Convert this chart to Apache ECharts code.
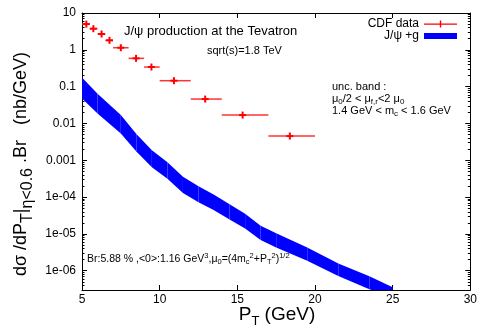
<!DOCTYPE html>
<html>
<head>
<meta charset="utf-8">
<script src="https://cdn.jsdelivr.net/npm/echarts@6/dist/echarts.min.js"></script>
<style>
  html, body { margin: 0; padding: 0; background: #fff; }
  #chart { width: 480px; height: 330px; }
</style>
</head>
<body>
<div id="chart"></div>
<script>
// CDF data points: centre, bin edges, value
const cdfPt = [5.28, 5.73, 6.26, 6.77, 7.5, 8.48, 9.47, 10.92, 12.93, 15.34, 18.38];
const cdfLo = [5.0, 5.5, 6.0, 6.5, 7.0, 8.0, 9.0, 10.0, 12.0, 14.0, 17.0];
const cdfHi = [5.5, 6.0, 6.5, 7.0, 8.0, 9.0, 10.0, 12.0, 14.0, 17.0, 20.0];
const cdfVal = [5.0, 3.75, 2.69, 1.81, 1.14, 0.587, 0.341, 0.145, 0.046, 0.0169, 0.00455];

// J/psi + g uncertainty band
const bandPt = [5, 6, 7.5, 8.5, 9.5, 10.5, 11.5, 12.5, 13.5, 14.5, 15.5, 16.5, 17.5, 19.5, 21.5, 23.5, 25];
const bandUpper = [0.178, 0.0646, 0.0170, 0.00519, 0.00188, 8.8e-4, 3.55e-4, 1.97e-4, 1.15e-4, 6.4e-5, 3.55e-5, 1.66e-5, 1.04e-5, 4.3e-6, 1.58e-6, 7.1e-7, 3.55e-7];
const bandLower = [0.0479, 0.0186, 0.00537, 0.00172, 6.5e-4, 3.13e-4, 1.29e-4, 7.3e-5, 4.4e-5, 2.48e-5, 1.41e-5, 6.8e-6, 4.3e-6, 1.88e-6, 7.2e-7, 3.16e-7, 1.78e-7];

// y axis ticks
const yTickValues = [1e-6, 1e-5, 1e-4, 1e-3, 0.01, 0.1, 1, 10];
const yTickLabels = ['1e-06', '1e-05', '1e-04', '0.001', '0.01', '0.1', '1', '10'];

const FONT = 'Liberation Sans, Arial, Helvetica, sans-serif';

// gnuplot style minor ticks 2..9 per decade
const yMinor = [];
for (let e = -7; e <= 0; e++) {
  for (let m = 2; m <= 9; m++) {
    const v = m * Math.pow(10, e);
    if (v >= 3e-7 && v <= 10) yMinor.push(v);
  }
}

const chart = echarts.init(document.getElementById('chart'));

const yBase = { type: 'log', logBase: 10, min: 3e-7, max: 10, splitLine: { show: false } };
const tickLine = { color: '#000', width: 1 };

const cdfData = cdfPt.map((x, i) => [x, cdfVal[i], cdfLo[i], cdfHi[i]]);
// band as quads between neighbouring samples
const bandData = bandPt.slice(0, -1).map((x, i) =>
  [x, bandLower[i], bandUpper[i], bandPt[i + 1], bandLower[i + 1], bandUpper[i + 1]]);

const legendText = { fontFamily: FONT, fontSize: 12, color: '#000', lineHeight: 12 };

chart.setOption({
  animation: false,
  backgroundColor: '#fff',
  grid: { left: 82, right: 8, top: 13, bottom: 40 },
  legend: [
    {
      data: ['CDF data'], right: 23, top: 18, align: 'right', itemWidth: 33, itemHeight: 7,
      padding: 0, itemGap: 0, textStyle: legendText, selectedMode: false,
      icon: 'path://M0,3L33,3L33,4.2L0,4.2Z M15.8,0L17.2,0L17.2,7L15.8,7Z',
      itemStyle: { color: '#ff0000', borderWidth: 0 }
    },
    {
      data: ['J/ψ +g'], right: 23, top: 30, align: 'right', itemWidth: 33, itemHeight: 6,
      padding: 0, itemGap: 0, textStyle: legendText, selectedMode: false,
      icon: 'rect',
      itemStyle: { color: '#0000ff', borderWidth: 0 }
    }
  ],
  xAxis: [
    {
      type: 'value', min: 5, max: 30, interval: 5, position: 'bottom',
      axisLine: { lineStyle: tickLine },
      axisTick: { inside: true, length: 5, lineStyle: tickLine },
      axisLabel: { color: '#000', fontFamily: FONT, fontSize: 12, margin: 4 },
      splitLine: { show: false }
    },
    {
      type: 'value', min: 5, max: 30, interval: 5, position: 'top',
      axisLine: { lineStyle: tickLine },
      axisTick: { inside: true, length: 5, lineStyle: tickLine },
      axisLabel: { show: false },
      splitLine: { show: false }
    }
  ],
  yAxis: [
    Object.assign({}, yBase, {
      position: 'left',
      axisLine: { show: true, lineStyle: tickLine },
      axisTick: { inside: true, length: 5, lineStyle: tickLine, customValues: yTickValues },
      axisLabel: {
        color: '#000', fontFamily: FONT, fontSize: 12, margin: 6,
        customValues: yTickValues,
        formatter: (v) => yTickLabels[yTickValues.findIndex(t => Math.abs(Math.log10(t) - Math.log10(v)) < 1e-6)]
      }
    }),
    Object.assign({}, yBase, {
      position: 'right',
      axisLine: { show: true, lineStyle: tickLine },
      axisTick: { inside: true, length: 5, lineStyle: tickLine, customValues: yTickValues },
      axisLabel: { show: false }
    }),
    Object.assign({}, yBase, {
      position: 'left',
      axisLine: { show: false },
      axisTick: { inside: true, length: 2.5, lineStyle: tickLine, customValues: yMinor },
      axisLabel: { show: false }
    }),
    Object.assign({}, yBase, {
      position: 'right',
      axisLine: { show: false },
      axisTick: { inside: true, length: 2.5, lineStyle: tickLine, customValues: yMinor },
      axisLabel: { show: false }
    })
  ],
  series: [
    {
      name: 'J/ψ +g', type: 'custom', silent: true, clip: true,
      itemStyle: { color: '#0000ff', borderWidth: 0 },
      encode: { x: [0, 3], y: [1, 2, 4, 5] },
      data: bandData,
      renderItem: (params, api) => {
        const a = api.coord([api.value(0), api.value(2)]);
        const b = api.coord([api.value(3), api.value(5)]);
        const c = api.coord([api.value(3), api.value(4)]);
        const d = api.coord([api.value(0), api.value(1)]);
        return {
          type: 'polygon',
          shape: { points: [a, b, c, d] },
          style: { fill: '#0000ff' }
        };
      }
    },
    {
      name: 'CDF data', type: 'custom', silent: true,
      itemStyle: { color: '#ff0000', borderWidth: 0 },
      encode: { x: 0, y: 1 },
      data: cdfData,
      renderItem: (params, api) => {
        const c = api.coord([api.value(0), api.value(1)]);
        const lo = api.coord([api.value(2), api.value(1)]);
        const hi = api.coord([api.value(3), api.value(1)]);
        return {
          type: 'group',
          children: [
            { type: 'line', shape: { x1: lo[0], y1: c[1], x2: hi[0], y2: c[1] },
              style: { stroke: '#ff3333', lineWidth: 1.5 } },
            { type: 'line', shape: { x1: c[0] - 3.5, y1: c[1], x2: c[0] + 3.5, y2: c[1] },
              style: { stroke: '#ff0000', lineWidth: 2 } },
            { type: 'line', shape: { x1: c[0], y1: c[1] - 3.5, x2: c[0], y2: c[1] + 3.5 },
              style: { stroke: '#ff0000', lineWidth: 2 } }
          ]
        };
      }
    }
  ],
  graphic: [
    {
      type: 'text', x: 124, y: 31,
      style: { text: 'J/ψ production at the Tevatron', font: '13px ' + FONT, fill: '#000', verticalAlign: 'middle' }
    },
    {
      type: 'text', x: 207, y: 51,
      style: { text: 'sqrt(s)=1.8 TeV', font: '11px ' + FONT, fill: '#000', verticalAlign: 'middle' }
    },
    {
      type: 'text', x: 332, y: 87,
      style: { text: 'unc. band :', font: '11px ' + FONT, fill: '#000', verticalAlign: 'middle' }
    },
    {
      type: 'text', x: 332, y: 99,
      style: {
        text: '{n|μ}{s|0}{n|/2 < μ}{s|f,r}{n|<2 μ}{s|0}', verticalAlign: 'middle', fill: '#000',
        rich: {
          n: { fontSize: 11, fontFamily: FONT, lineHeight: 14 },
          s: { fontSize: 8, fontFamily: FONT, verticalAlign: 'bottom', lineHeight: 14 }
        }
      }
    },
    {
      type: 'text', x: 332, y: 111,
      style: {
        text: '{n|1.4 GeV < m}{s|c}{n| < 1.6 GeV}', verticalAlign: 'middle', fill: '#000',
        rich: {
          n: { fontSize: 11, fontFamily: FONT, lineHeight: 14 },
          s: { fontSize: 8, fontFamily: FONT, verticalAlign: 'bottom', lineHeight: 14 }
        }
      }
    },
    {
      type: 'text', x: 87, y: 259,
      style: {
        text: '{n|Br:5.88 % ,<0>:1.16 GeV}{p|3}{n|,μ}{s|0}{n|=(4m}{s|c}{p|2}{n|+P}{s|T}{p|2}{n|)}{p|1/2}',
        verticalAlign: 'middle', fill: '#000',
        rich: {
          n: { fontSize: 10.5, fontFamily: FONT, lineHeight: 14 },
          s: { fontSize: 7.5, fontFamily: FONT, verticalAlign: 'bottom', lineHeight: 14 },
          p: { fontSize: 7.5, fontFamily: FONT, verticalAlign: 'top', lineHeight: 14 }
        }
      }
    },
    {
      type: 'text', x: 21, y: 164, rotation: Math.PI / 2,
      style: {
        text: '{n|dσ /dP}{s|T}{n||}{s|η<0.6}{n| .Br   (nb/GeV)}',
        align: 'center', verticalAlign: 'middle', fill: '#000',
        rich: {
          n: { fontSize: 18, fontFamily: FONT, lineHeight: 26 },
          s: { fontSize: 16, fontFamily: FONT, verticalAlign: 'bottom', lineHeight: 29 }
        }
      }
    },
    {
      type: 'text', x: 277, y: 315,
      style: {
        text: '{n|P}{s|T}{n| (GeV)}',
        align: 'center', verticalAlign: 'middle', fill: '#000',
        rich: {
          n: { fontSize: 19, fontFamily: FONT, lineHeight: 24 },
          s: { fontSize: 13, fontFamily: FONT, verticalAlign: 'bottom', lineHeight: 26 }
        }
      }
    }
  ]
});
</script>
</body>
</html>
